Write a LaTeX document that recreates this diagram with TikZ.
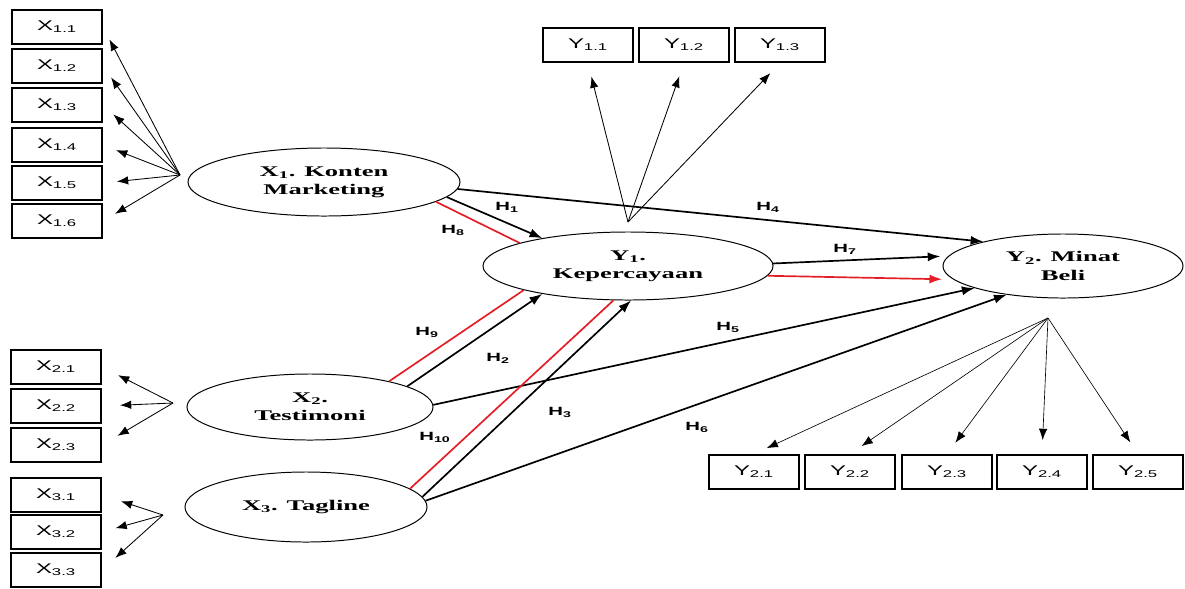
\documentclass[tikz,border=0pt]{standalone}
\usepackage{fontspec}
\usepackage{tikz}
\usetikzlibrary{shapes.geometric,arrows.meta}
\newfontfamily\boxfont[FakeStretch=1.7]{Liberation Sans}
\newfontfamily\varfont[FakeStretch=1.8]{Liberation Serif}
\definecolor{hred}{RGB}{228,30,38}

\begin{document}
\begin{tikzpicture}[x=0.025cm,y=-0.025cm,every node/.style={inner sep=0pt},
  ind/.style={draw,line width=1.4pt,minimum width=2.25cm,minimum height=0.85cm,font=\boxfont\fontsize{10}{11}\selectfont},
  lat/.style={draw,ellipse,line width=0.7pt,align=center,font=\varfont\bfseries\fontsize{10.5}{13}\selectfont},
  hyp/.style={font=\boxfont\bfseries\fontsize{8.5}{9}\selectfont},
  loadarrow/.style={-{Latex[length=8pt,width=6pt]},line width=0.6pt,shorten >=0.35cm},
  struct/.style={-{Latex[length=9pt,width=6.5pt]},line width=1.2pt},
  med/.style={hred,line width=1.2pt}]
\useasboundingbox (0,0) rectangle (1185,588);
\node[ind](x11) at (57,27){X\textsubscript{1.1}} ;
\node[ind](x12) at (57,66){X\textsubscript{1.2}} ;
\node[ind](x13) at (57,105){X\textsubscript{1.3}} ;
\node[ind](x14) at (57,145){X\textsubscript{1.4}} ;
\node[ind](x15) at (57,183){X\textsubscript{1.5}} ;
\node[ind](x16) at (57,221){X\textsubscript{1.6}} ;
\node[ind](x21) at (56,367){X\textsubscript{2.1}} ;
\node[ind](x22) at (56,406){X\textsubscript{2.2}} ;
\node[ind](x23) at (56,445){X\textsubscript{2.3}} ;
\node[ind](x31) at (56,495){X\textsubscript{3.1}} ;
\node[ind](x32) at (56,532){X\textsubscript{3.2}} ;
\node[ind](x33) at (56,570){X\textsubscript{3.3}} ;
\node[ind](y11) at (588,45){Y\textsubscript{1.1}} ;
\node[ind](y12) at (684,45){Y\textsubscript{1.2}} ;
\node[ind](y13) at (780,45){Y\textsubscript{1.3}} ;
\node[ind](y21) at (754,472){Y\textsubscript{2.1}} ;
\node[ind](y22) at (850,472){Y\textsubscript{2.2}} ;
\node[ind](y23) at (947,472){Y\textsubscript{2.3}} ;
\node[ind](y24) at (1042,472){Y\textsubscript{2.4}} ;
\node[ind](y25) at (1138,472){Y\textsubscript{2.5}} ;
\node[lat,minimum width=6.8cm,minimum height=1.7cm](x1) at (324,182){X\textsubscript{1}. Konten\\Marketing} ;
\node[lat,minimum width=6.15cm,minimum height=1.65cm](x2) at (310,407){X\textsubscript{2}.\\Testimoni} ;
\node[lat,minimum width=6.05cm,minimum height=1.75cm](x3) at (306,507){X\textsubscript{3}. Tagline} ;
\node[lat,minimum width=7.25cm,minimum height=1.7cm](y1) at (628,266){Y\textsubscript{1}.\\Kepercayaan} ;
\node[lat,minimum width=6cm,minimum height=1.6cm](y2) at (1063,266){Y\textsubscript{2}. Minat\\Beli} ;
\coordinate(x1hub) at (180,175) ;
\coordinate(x2hub) at (173,403) ;
\coordinate(x3hub) at (163,515) ;
\coordinate(y1hub) at (628,222) ;
\coordinate(y2hub) at (1048,318) ;
\draw[loadarrow](x1hub) -- (x11.east);
\draw[loadarrow](x1hub) -- (x12.east);
\draw[loadarrow](x1hub) -- (x13.east);
\draw[loadarrow](x1hub) -- (x14.east);
\draw[loadarrow](x1hub) -- (x15.east);
\draw[loadarrow](x1hub) -- (x16.east);
\draw[loadarrow,shorten >=0.45cm](x2hub) -- (x21.east);
\draw[loadarrow,shorten >=0.45cm](x2hub) -- (x22.east);
\draw[loadarrow,shorten >=0.45cm](x2hub) -- (x23.east);
\draw[loadarrow,shorten >=0.5cm](x3hub) -- (x31.east);
\draw[loadarrow,shorten >=0.35cm](x3hub) -- (x32.east);
\draw[loadarrow,shorten >=0.45cm](x3hub) -- (x33.east);
\draw[loadarrow](y1hub) -- (y11.south);
\draw[loadarrow](y1hub) -- (y12.south);
\draw[loadarrow](y1hub) -- (y13.south);
\draw[loadarrow,line width=0.45pt](y2hub) -- (y21.north);
\draw[loadarrow,line width=0.45pt](y2hub) -- (y22.north);
\draw[loadarrow,line width=0.45pt](y2hub) -- (y23.north);
\draw[loadarrow,line width=0.45pt](y2hub) -- (y24.north);
\draw[loadarrow,line width=0.45pt](y2hub) -- (y25.north);
\draw[struct](x1.-3) -- (y2.163);
\draw[struct](x1.-7) -- (y1.162);
\draw[med](x1.-10) -- (y1.168);
\draw[struct,shorten >=0.2cm](y1.1) -- (y2.175);
\draw[med,-{Latex[length=9pt,width=6.5pt]},shorten >=0.28cm](y1.-4) -- (y2.187);
\draw[med](x2.18) -- (y1.193);
\draw[struct](x2.12) -- (y1.198);
\draw[struct](x2.1) -- (y2.194);
\draw[med](x3.10) -- (y1.247);
\draw[struct](x3.5) -- (y1.275);
\draw[struct](x3.3) -- (y2.207);
\node[hyp](h1) at (507,207){H\textsubscript{1}} ;
\node[hyp](h2) at (498,358){H\textsubscript{2}} ;
\node[hyp](h3) at (560,412){H\textsubscript{3}} ;
\node[hyp](h4) at (768,207){H\textsubscript{4}} ;
\node[hyp](h5) at (728,327){H\textsubscript{5}} ;
\node[hyp](h6) at (697,427){H\textsubscript{6}} ;
\node[hyp](h7) at (845,249){H\textsubscript{7}} ;
\node[hyp](h8) at (453,230){H\textsubscript{8}} ;
\node[hyp](h9) at (427,332){H\textsubscript{9}} ;
\node[hyp](h10) at (435,437){H\textsubscript{10}} ;
\end{tikzpicture}
\end{document}
